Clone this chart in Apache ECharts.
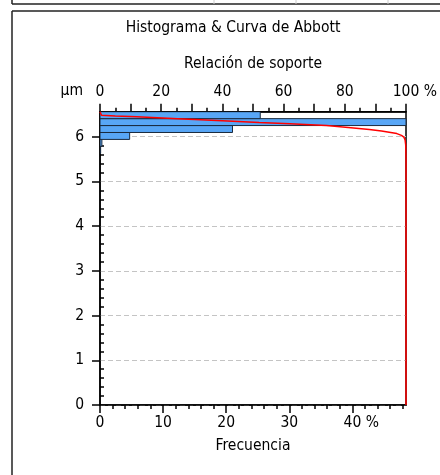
<!DOCTYPE html>
<html>
<head>
<meta charset="utf-8">
<script src="https://cdn.jsdelivr.net/npm/echarts@6/dist/echarts.min.js"></script>
<style>
html,body{margin:0;padding:0;background:#fff;}
#c{width:440px;height:475px;}
</style>
</head>
<body>
<div id="c"></div>
<script>
// Histogram bins (height in µm) and frequency (%)
const binLow  = [5.63, 5.785, 5.94, 6.095, 6.25, 6.405];
const binHigh = [5.785, 5.94, 6.095, 6.25, 6.405, 6.56];
const freq    = [0.1, 0.3, 4.7, 21.0, 48.5, 25.4];
// Abbott curve: bearing ratio (%) vs height (µm)
const bearing = [0, 0.5, 5, 12, 25.4, 40, 52, 62, 74, 82, 88, 92, 95, 97, 98.5, 99.3, 99.7, 99.9, 100, 100];
const height  = [6.56, 6.48, 6.465, 6.445, 6.405, 6.36, 6.32, 6.29, 6.25, 6.20, 6.16, 6.13, 6.095, 6.07, 6.03, 5.99, 5.93, 5.82, 5.5, 0];
// Tick labels
const freqTicks = [0, 10, 20, 30, 40];
const freqMinor = [2,4,6,8,12,14,16,18,22,24,26,28,32,34,36,38,42,44,46,48];
const yTicks = [0, 1, 2, 3, 4, 5, 6];
const yMinor = [0.2,0.4,0.6,0.8,1.2,1.4,1.6,1.8,2.2,2.4,2.6,2.8,3.2,3.4,3.6,3.8,4.2,4.4,4.6,4.8,5.2,5.4,5.6,5.8,6.2,6.4];

const FONT = "'DejaVu Sans Condensed', 'DejaVu Sans', sans-serif";
const FS = 15.5;
const chart = echarts.init(document.getElementById('c'), null, {renderer: 'canvas'});

const barData = freq.map((f, i) => [binLow[i], binHigh[i], f]);
const curveData = bearing.map((b, i) => [b, height[i]]);

chart.setOption({
  animation: false,
  backgroundColor: '#fff',
  textStyle: {fontFamily: FONT},
  title: {
    text: 'Histograma & Curva de Abbott',
    left: 233, top: 20, textAlign: 'center', padding: 0,
    textStyle: {fontFamily: FONT, fontSize: FS, fontWeight: 'normal', color: '#000'}
  },
  graphic: [
    {type: 'line', shape: {x1: 12, y1: 4, x2: 440, y2: 4}, style: {stroke: '#222', lineWidth: 1.5}},
    {type: 'line', shape: {x1: 12, y1: 0, x2: 12, y2: 4}, style: {stroke: '#222', lineWidth: 1.5}},
    {type: 'line', shape: {x1: 214, y1: 0, x2: 214, y2: 4}, style: {stroke: '#ccc', lineWidth: 1}},
    {type: 'line', shape: {x1: 296, y1: 0, x2: 296, y2: 4}, style: {stroke: '#ccc', lineWidth: 1}},
    {type: 'line', shape: {x1: 388, y1: 0, x2: 388, y2: 4}, style: {stroke: '#ccc', lineWidth: 1}},
    {type: 'line', shape: {x1: 12, y1: 11, x2: 440, y2: 11}, style: {stroke: '#222', lineWidth: 1.5}},
    {type: 'line', shape: {x1: 12, y1: 11, x2: 12, y2: 475}, style: {stroke: '#222', lineWidth: 1.5}}
  ],
  grid: {left: 100, right: 31.7, top: 111.7, bottom: 70, show: true, borderColor: '#000', borderWidth: 1.5, containLabel: false},
  xAxis: [
    {
      type: 'value', position: 'bottom', min: 0, max: 48.5,
      axisLine: {show: true, onZero: false, lineStyle: {color: '#000', width: 1.5}},
      axisTick: {show: true, length: 8, customValues: freqTicks, lineStyle: {color: '#000', width: 1.5}},
      axisLabel: {
        customValues: freqTicks, margin: 10, color: '#000', fontSize: FS, fontFamily: FONT,
        formatter: v => v === 40 ? '{h| %}40 %' : String(v),
        rich: {h: {color: 'rgba(0,0,0,0)', fontSize: FS, fontFamily: FONT}}
      },
      splitLine: {show: false},
      name: 'Frecuencia', nameLocation: 'middle', nameGap: 33,
      nameTextStyle: {color: '#000', fontSize: FS, fontFamily: FONT}
    },
    {
      type: 'value', position: 'bottom', min: 0, max: 48.5,
      axisLine: {show: false},
      axisTick: {show: true, length: 4, customValues: freqMinor, lineStyle: {color: '#000', width: 1.5}},
      axisLabel: {show: false},
      splitLine: {show: false}
    },
    {
      type: 'value', position: 'top', min: 0, max: 100, interval: 10,
      axisLine: {show: true, onZero: false, lineStyle: {color: '#000', width: 1.5}},
      axisTick: {show: true, length: 8, lineStyle: {color: '#000', width: 1.5}},
      minorTick: {show: true, splitNumber: 2, length: 4, lineStyle: {color: '#000', width: 1.5}},
      axisLabel: {
        margin: 12, color: '#000', fontSize: FS, fontFamily: FONT,
        formatter: v => (v % 20 !== 0) ? '' : (v === 100 ? '{h| %}100 %' : String(v)),
        rich: {h: {color: 'rgba(0,0,0,0)', fontSize: FS, fontFamily: FONT}}
      },
      splitLine: {show: false},
      name: 'Relación de soporte', nameLocation: 'middle', nameGap: 40,
      nameTextStyle: {color: '#000', fontSize: FS, fontFamily: FONT}
    }
  ],
  yAxis: [
    {
      type: 'value', min: 0, max: 6.56,
      axisLine: {show: true, onZero: false, lineStyle: {color: '#000', width: 1.5}},
      axisTick: {show: true, length: 8, customValues: yTicks, lineStyle: {color: '#000', width: 1.5}},
      axisLabel: {customValues: yTicks, margin: 16, color: '#000', fontSize: FS, fontFamily: FONT},
      splitLine: {show: true, lineStyle: {color: '#c4c4c4', width: 1, type: [5, 3]}},
      name: 'µm', nameLocation: 'end', nameGap: 21,
      nameTextStyle: {color: '#000', fontSize: FS, fontFamily: FONT, align: 'right', verticalAlign: 'middle', padding: [0, 17, 0, 0]}
    },
    {
      type: 'value', min: 0, max: 6.56,
      axisLine: {show: false},
      axisTick: {show: true, length: 4, customValues: yMinor, lineStyle: {color: '#000', width: 1.5}},
      axisLabel: {show: false},
      splitLine: {show: false}
    }
  ],
  series: [
    {
      type: 'custom', xAxisIndex: 0, yAxisIndex: 0,
      data: barData,
      encode: {x: 2, y: [0, 1]},
      clip: true,
      renderItem: function (params, api) {
        const lo = api.value(0), hi = api.value(1), f = api.value(2);
        const p1 = api.coord([0, hi]);
        const p2 = api.coord([f, lo]);
        return {
          type: 'rect',
          shape: {x: p1[0], y: p1[1], width: p2[0] - p1[0], height: p2[1] - p1[1]},
          style: {fill: '#58a6f6', stroke: '#1a2a3e', lineWidth: 1}
        };
      },
      z: 2
    },
    {
      type: 'line', xAxisIndex: 2, yAxisIndex: 0,
      data: curveData, symbol: 'none', smooth: false,
      lineStyle: {color: '#ff0000', width: 1.5},
      clip: false,
      z: 5
    }
  ]
});
</script>
</body>
</html>
